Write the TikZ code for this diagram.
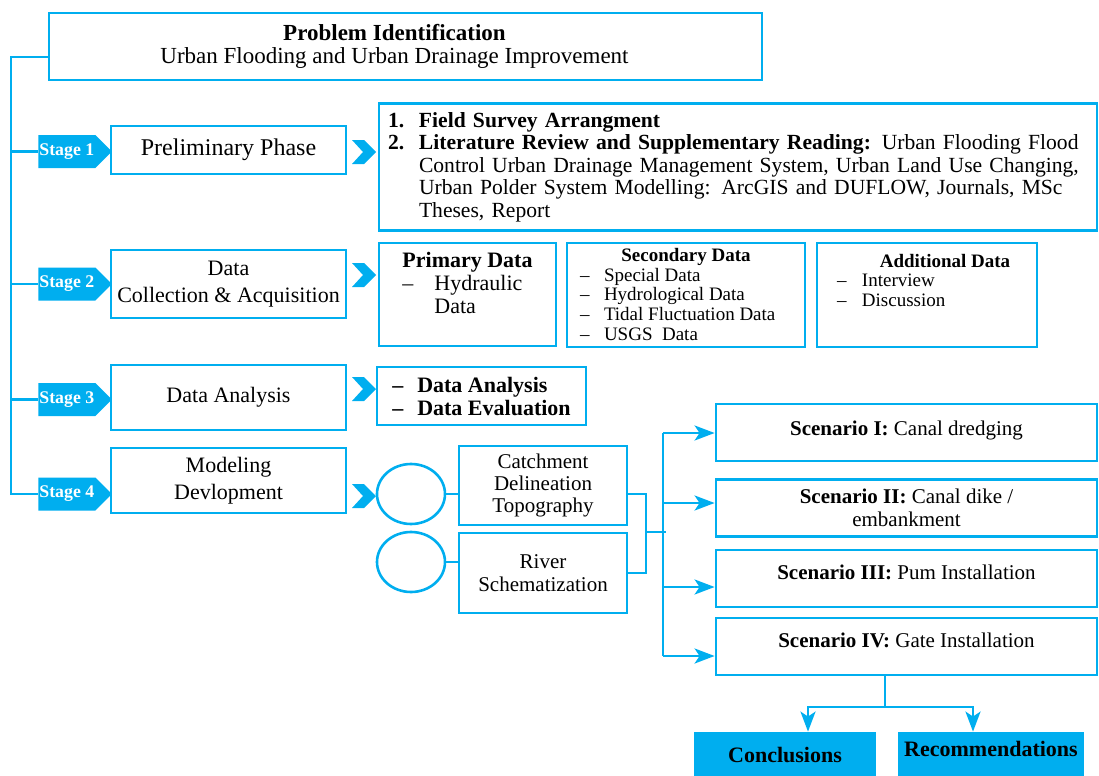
\documentclass[tikz,border=0pt]{standalone}
\usepackage{fontspec}
\setmainfont{Liberation Serif}
\usetikzlibrary{calc,shapes.geometric,shapes.symbols,arrows.meta}
\definecolor{cyanb}{RGB}{0,174,239}
\def\chevron(#1,#2){\fill[cyanb] (#1,#2-12) -- (#1+12,#2-12) -- (#1+24,#2) -- (#1+12,#2+12) -- (#1,#2+12) -- (#1+11,#2) -- cycle;}

\begin{document}
\begin{tikzpicture}[x=0.5pt,y=-0.5pt,
	ln/.style={draw=cyanb,line width=1.3pt},
	arr/.style={-{Stealth[length=10pt,width=7.5pt,inset=2.5pt]}},
	box/.style={draw=cyanb,line width=1.4pt,fill=white,inner sep=2pt,align=center,font=\fontsize{10.5}{11.2}\selectfont},
	stagebox/.style={box,minimum width=117.5pt,font=\fontsize{11}{13.5}\selectfont},
	scbox/.style={box,minimum width=190.5pt,minimum height=28.5pt},
	tag/.style={signal,signal to=east,fill=cyanb,text=white,anchor=west,minimum height=16.5pt,inner xsep=0.5pt,inner ysep=1pt,font=\fontsize{8.9}{10}\selectfont\bfseries},
	circ/.style={ellipse,draw=cyanb,line width=1.3pt,minimum width=34pt,minimum height=30pt},
	endbox/.style={fill=cyanb,minimum height=29pt,font=\fontsize{11}{13}\selectfont\bfseries}]
				\path[use as bounding box,clip] (0,0) rectangle (1099,776);
				
				\node[box,minimum width=356.5pt,minimum height=33.5pt,font=\fontsize{11.5}{11.5}\selectfont] (prob) at (405.5,46.5) {\textbf{Problem Identification}\hspace*{11pt}\\Urban Flooding and Urban Drainage Improvement\hspace*{11pt}};
				
				\node[stagebox,minimum height=24pt,font=\fontsize{12}{13}\selectfont] (s1) at (228.5,150) {Preliminary Phase};
				\node[stagebox,minimum height=34pt] (s2) at (228.5,284) {Data\\Collection \& Acquisition};
				\node[stagebox,minimum height=32.5pt] (s3) at (228.5,397.5) {Data Analysis};
				\node[stagebox,minimum height=32.5pt] (s4) at (228.5,480.5) {Modeling\\Devlopment};
				
				\node[tag] (t1) at (38,151.5) {Stage 1};
				\node[tag] (t2) at (38,284) {Stage 2};
				\node[tag] (t3) at (38,399.5) {Stage 3};
				\node[tag] (t4) at (38,494) {Stage 4};
				
				\coordinate (trunk) at (11,57);
				\draw[ln] (prob.west |- trunk) -- (trunk) |- (t4.west);
				\foreach \i in {1,2,3} \draw[ln] (trunk |- t\i.west) -- (t\i.west);
				
				\foreach \y in {152,275,389,496} \chevron(352,\y);
				
				\node[box,text width=350pt,minimum height=63.5pt,inner xsep=4.5pt,align=left,font=\fontsize{10.8}{11.25}\selectfont] (lit) at (738,167) {\makebox[15.5pt][l]{\textbf{1.}}\textbf{Field Survey Arrangment}\\
					\makebox[15.5pt][l]{\textbf{2.}}\parbox[t]{334.5pt}{\hyphenpenalty=10000\textbf{Literature Review and Supplementary Reading:} Urban Flooding Flood\linebreak Control Urban Drainage Management System, Urban Land Use Changing,\linebreak Urban Polder System Modelling: ArcGIS and DUFLOW, Journals, MSc\linebreak Theses, Report}};
				
				\node[box,minimum width=88.5pt,minimum height=51.5pt,align=left,font=\fontsize{11}{11.5}\selectfont] (prim) at (467.5,294.5) {\textbf{Primary Data}\\\makebox[16pt][l]{--}Hydraulic\\\hspace*{16pt}Data\\\mbox{}};
				\node[box,minimum width=119pt,minimum height=52pt,inner ysep=0.5pt,font=\fontsize{9.5}{9.9}\selectfont] (sec) at (686,295) {\raisebox{-1pt}[\height][\depth]{\begin{tabular}{@{}l@{}}\makebox[106pt]{\textbf{Secondary Data}}\\\makebox[12pt][l]{--}Special Data\\\makebox[12pt][l]{--}Hydrological Data\\\makebox[12pt][l]{--}Tidal Fluctuation Data\\\makebox[12pt][l]{--}USGS\ \ Data\end{tabular}}};
				\node[box,minimum width=110pt,minimum height=52pt,font=\fontsize{9.5}{9.9}\selectfont] (add) at (927,295) {\raisebox{6pt}[\height][\depth]{\begin{tabular}{@{}l@{}}\makebox[90pt]{\hspace*{18pt}\textbf{Additional Data}}\\\makebox[12.5pt][l]{--}Interview\\\makebox[12.5pt][l]{--}Discussion\end{tabular}}};
				
				\node[box,minimum width=104.5pt,minimum height=29pt,align=left,font=\fontsize{11}{11.5}\selectfont\bfseries] (dan) at (481.5,396) {\makebox[12.5pt][l]{--}Data Analysis\\\makebox[12.5pt][l]{--}Data Evaluation};
				
				\node[circ] (c1) at (411,494) {};
				\node[circ] (c2) at (411,562) {};
				\node[box,minimum width=84pt,minimum height=39.5pt] (catch) at (543,485.5) {Catchment\\Delineation\\Topography};
				\node[box,minimum width=84pt,minimum height=40pt] (river) at (543,573) {River\\Schematization};
				\draw[ln] (c1.east) -- (c1.east -| catch.west);
				\draw[ln] (c2.east) -- (c2.east -| river.west);
				
				\coordinate (join) at (646,532);
				\coordinate (split) at (666,532);
				\draw[ln] (c1.east -| catch.east) -| (join) |- (river.east);
				\draw[ln] (join) -- (split);
				
				\node[scbox] (sc1) at (906.5,432.5) {\raisebox{1pt}[\height][\depth]{\textbf{Scenario I:} Canal dredging}};
				\node[scbox] (sc2) at (906.5,508) {\textbf{Scenario II:} Canal dike /\\embankment};
				\node[scbox] (sc3) at (906.5,578.5) {\raisebox{3pt}[\height][\depth]{\textbf{Scenario III:} Pum Installation}};
				\node[scbox] (sc4) at (906.5,646.5) {\raisebox{3pt}[\height][\depth]{\textbf{Scenario IV:} Gate Installation}};
				
				\coordinate (trunktop) at (663,433);
				\coordinate (trunkbot) at (663,656);
				\draw[ln] (trunktop) -- (trunkbot);
				\foreach \i/\y in {1/433,2/503,3/587,4/656} \draw[ln,arr] (trunktop |- 0,\y) -- (sc\i.west |- 0,\y);
				
				\node[endbox,minimum width=91pt] (concl) at (785,761) {\raisebox{3pt}[\height][\depth]{Conclusions}};
				\node[endbox,minimum width=92pt] (rec) at (991,761) {\raisebox{6pt}[\height][\depth]{Recommendations}};
				
				\coordinate (fork) at (885,707);
				\draw[ln] (sc4.south -| fork) -- (fork);
				\draw[ln,arr] (fork) -| (concl.north -| 808,0);
				\draw[ln,arr] (fork) -| (rec.north -| 973,0);
			\end{tikzpicture}
\end{document}
